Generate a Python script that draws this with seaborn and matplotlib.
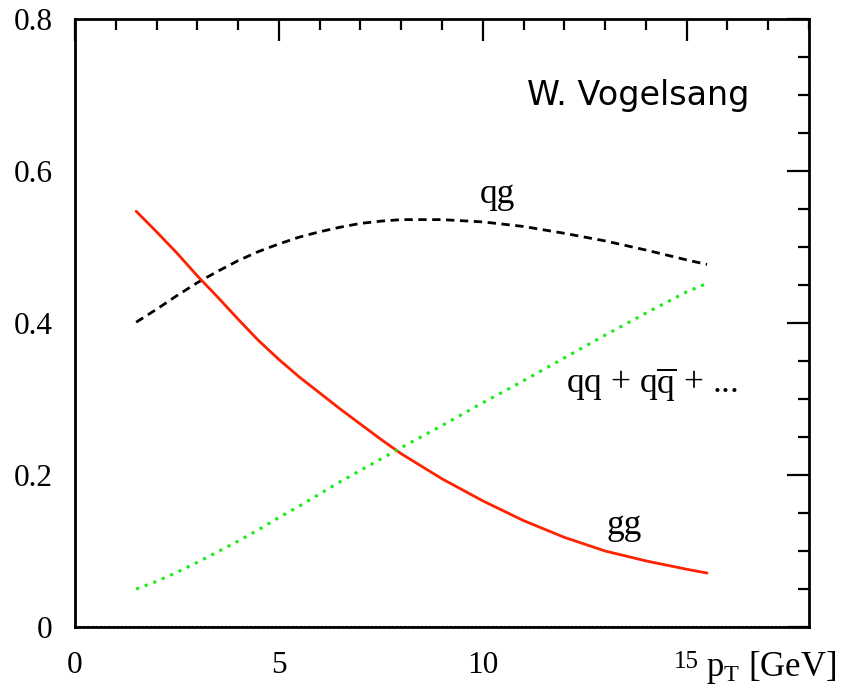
import matplotlib
matplotlib.use("Agg")
import matplotlib.pyplot as plt
from matplotlib.ticker import MultipleLocator
import seaborn as sns
import pandas as pd

# Data
pt = [1.5, 2, 2.5, 3, 3.5, 4, 4.5, 5, 5.5, 6, 6.5, 7, 7.5, 8,
      9, 10, 11, 12, 13, 14, 15, 15.5]
qg = [0.401, 0.418, 0.436, 0.453, 0.468, 0.482, 0.494, 0.504, 0.513, 0.520,
      0.526, 0.531, 0.534, 0.536, 0.536, 0.533, 0.527, 0.518, 0.508, 0.496,
      0.483, 0.477]
gg = [0.547, 0.520, 0.492, 0.462, 0.434, 0.405, 0.377, 0.352, 0.329, 0.308,
      0.287, 0.267, 0.247, 0.228, 0.195, 0.166, 0.140, 0.118, 0.100, 0.087,
      0.076, 0.071]
qq = [0.050, 0.060, 0.072, 0.085, 0.099, 0.113, 0.128, 0.144, 0.159, 0.175,
      0.191, 0.206, 0.221, 0.236, 0.265, 0.295, 0.324, 0.354, 0.384, 0.413,
      0.441, 0.452]

x_ticks = [0, 5, 10, 15]
y_ticks = [0, 0.2, 0.4, 0.6, 0.8]
x_ticklabels = ["0", "5", "10", "15"]
y_ticklabels = ["0", "0.2", "0.4", "0.6", "0.8"]

sns.set_style("white")
plt.rcParams["font.family"] = ["Liberation Serif", "DejaVu Serif"]
plt.rcParams["mathtext.fontset"] = "custom"
plt.rcParams["mathtext.rm"] = "Liberation Serif"
plt.rcParams["mathtext.it"] = "Liberation Serif:italic"
plt.rcParams["text.color"] = "black"
plt.rcParams["xtick.color"] = "black"
plt.rcParams["ytick.color"] = "black"
plt.rcParams["xtick.labelcolor"] = "black"
plt.rcParams["ytick.labelcolor"] = "black"

df = pd.DataFrame({"pt": pt, "qg": qg, "gg": gg, "qq": qq})

fig = plt.figure(figsize=(8.52, 6.90), dpi=100)
ax = fig.add_axes([0.088, 0.0913, 0.8615, 0.8812])

sns.lineplot(data=df, x="pt", y="qg", ax=ax, color="black", lw=2.0,
             linestyle=(0, (3, 2)))
sns.lineplot(data=df, x="pt", y="gg", ax=ax, color="#ff2200", lw=2.0)
sns.lineplot(data=df, x="pt", y="qq", ax=ax, color="#11ee11", lw=2.2,
             linestyle=(0, (1, 2)))

# dotted zero line along bottom axis
ax.axhline(0, color="black", lw=1.5, linestyle=(0, (1, 1)), zorder=5)

ax.set_xlim(0, 18)
ax.set_ylim(0, 0.8)
ax.set_xticks(x_ticks)
ax.set_xticklabels(x_ticklabels)
ax.set_yticks(y_ticks)
ax.set_yticklabels(y_ticklabels)
ax.xaxis.set_minor_locator(MultipleLocator(1))
ax.yaxis.set_minor_locator(MultipleLocator(0.05))
ax.tick_params(which="both", direction="in", top=True, right=True,
               labelsize=22.5, width=1.6, colors="black", labelcolor="black")
ax.tick_params(which="major", length=16)
ax.tick_params(which="minor", length=8)
ax.tick_params(axis="y", pad=16)
ax.tick_params(axis="x", pad=17)
for lbl in ax.get_xticklabels():
    if lbl.get_text() == "15":
        lbl.set_fontsize(18)
for sp in ax.spines.values():
    sp.set_visible(True)
    sp.set_linewidth(2.0)
    sp.set_color("black")

ax.set_xlabel("")
ax.set_ylabel("")
fig.text(0.829, 1 - 676.5 / 690, r"p$_{\rm T}$ [GeV]", fontsize=25,
         ha="left", va="baseline", color="black")

ax.text(9.93, 0.558, "qg", fontsize=25.5, va="baseline", color="black")
ax.text(12.03, 0.3075, r"qq + q$\overline{\rm q}$ + ...", fontsize=25.5,
        va="baseline", color="black")
ax.text(13.03, 0.123, "gg", fontsize=25.5, va="baseline", color="black")
ax.text(11.08, 0.687, "W. Vogelsang", fontsize=24, va="baseline",
        family=["DejaVu Sans"], color="black")

fig.savefig("out.png", dpi=100, facecolor="white")
